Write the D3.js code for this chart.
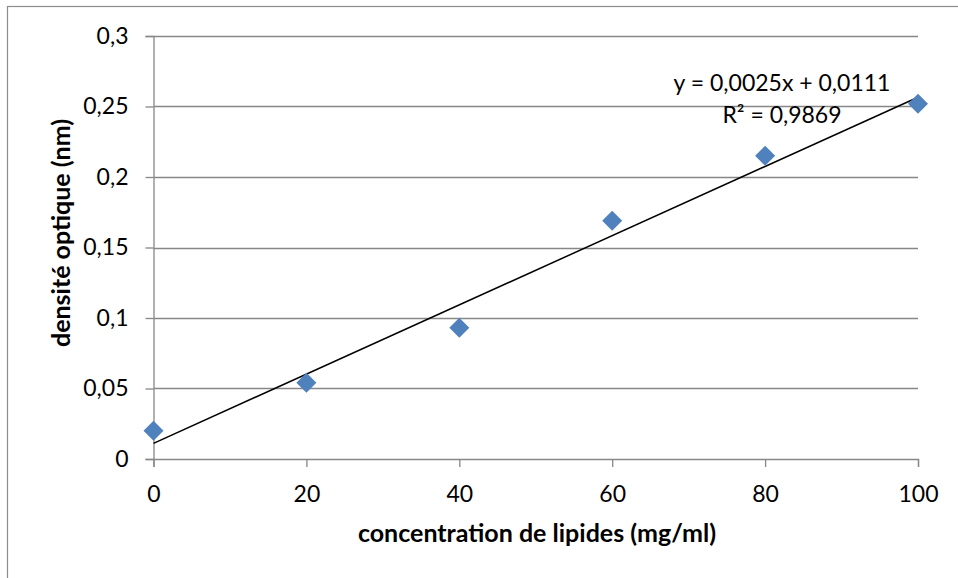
<!DOCTYPE html>
<html>
<head>
<meta charset="utf-8">
<script src="https://cdn.jsdelivr.net/npm/d3@7"></script>
<style>
  html, body { margin: 0; padding: 0; background: #fff; }
  svg { display: block; }
  text { font-family: Lato, "Open Sans", sans-serif; fill: #000; }
</style>
</head>
<body>
<svg id="chart" width="958" height="578"></svg>
<script>
// Lipid concentration (mg/ml) vs optical density
const concentrations = [0, 20, 40, 60, 80, 100];
const densities = [0.020, 0.054, 0.093, 0.169, 0.215, 0.252];

// Linear trendline coefficients and fit quality
const trendSlope = 0.002455;
const trendIntercept = 0.0111;
const trendR2 = 0.9869;

const xTicks = [0, 20, 40, 60, 80, 100];
const yTicks = [0, 0.05, 0.1, 0.15, 0.2, 0.25, 0.3];

const xTitle = "concentration de lipides (mg/ml)";
const yTitle = "densité optique (nm)";

const svg = d3.select("#chart");
const W = 958, H = 578;
const plot = { left: 153.5, right: 918, top: 36, bottom: 459 };
const gridColor = "#878787";
const labelSize = 23;
const titleSize = 25;

// Chart frame
svg.append("rect")
  .attr("x", 7.5).attr("y", 6.5)
  .attr("width", W).attr("height", H)
  .attr("fill", "#fff")
  .attr("stroke", "#8c8c8c").attr("stroke-width", 1.2);

const x = d3.scaleLinear().domain([0, 100]).range([plot.left, plot.right]);
const y = d3.scaleLinear().domain([0, 0.3]).range([plot.bottom, plot.top]);

const fmt = v => d3.format("~g")(v).replace(".", ",");

// Horizontal gridlines
svg.append("g")
  .selectAll("line")
  .data(yTicks.filter(t => t > 0))
  .join("line")
  .attr("x1", plot.left).attr("x2", plot.right)
  .attr("y1", d => Math.round(y(d)) + 0.5).attr("y2", d => Math.round(y(d)) + 0.5)
  .attr("stroke", gridColor).attr("stroke-width", 1.3);

// Y axis
const yAxis = svg.append("g")
  .attr("transform", `translate(${plot.left},0)`)
  .call(d3.axisLeft(y).tickValues(yTicks).tickFormat(fmt).tickSize(8).tickPadding(17));
yAxis.select(".domain").attr("stroke", gridColor).attr("stroke-width", 1.3);
yAxis.selectAll(".tick line").attr("stroke", gridColor).attr("stroke-width", 1.3);
yAxis.selectAll(".tick text").attr("font-size", labelSize).attr("fill", "#000")
  .style("font-family", "Lato, 'Open Sans', sans-serif");

// X axis
const xAxis = svg.append("g")
  .attr("transform", `translate(0,${plot.bottom})`)
  .call(d3.axisBottom(x).tickValues(xTicks).tickFormat(fmt).tickSize(8).tickPadding(19));
xAxis.select(".domain").attr("stroke", gridColor).attr("stroke-width", 1.3);
xAxis.selectAll(".tick line").attr("stroke", gridColor).attr("stroke-width", 1.3);
xAxis.selectAll(".tick text").attr("font-size", labelSize).attr("fill", "#000")
  .style("font-family", "Lato, 'Open Sans', sans-serif");

// Trendline
svg.append("line")
  .attr("x1", x(0)).attr("y1", y(trendIntercept))
  .attr("x2", x(100)).attr("y2", y(trendIntercept + trendSlope * 100))
  .attr("stroke", "#000").attr("stroke-width", 1.5);

// Data markers (diamonds)
const diamond = d3.symbol().type(d3.symbolSquare).size(200);
svg.append("g")
  .selectAll("path")
  .data(concentrations.map((c, i) => ({ c, v: densities[i] })))
  .join("path")
  .attr("d", diamond)
  .attr("transform", d => `translate(${x(d.c)},${y(d.v)}) rotate(45)`)
  .attr("fill", "#4F81BD");

// Trendline equation
const eqText = `y = ${trendSlope.toFixed(4).replace(".", ",")}x + ${trendIntercept.toFixed(4).replace(".", ",")}`;
const r2Text = `R² = ${trendR2.toFixed(4).replace(".", ",")}`;
svg.append("text")
  .attr("x", 782).attr("y", 91)
  .attr("text-anchor", "middle").attr("font-size", labelSize)
  .text(eqText);
svg.append("text")
  .attr("x", 782).attr("y", 123)
  .attr("text-anchor", "middle").attr("font-size", labelSize)
  .text(r2Text);

// Axis titles
svg.append("text")
  .attr("x", 537).attr("y", 542)
  .attr("text-anchor", "middle").attr("font-size", titleSize).attr("font-weight", "bold")
  .text(xTitle);
svg.append("text")
  .attr("transform", "translate(70,233) rotate(-90)")
  .attr("text-anchor", "middle").attr("font-size", titleSize).attr("font-weight", "bold")
  .text(yTitle);
</script>
</body>
</html>
